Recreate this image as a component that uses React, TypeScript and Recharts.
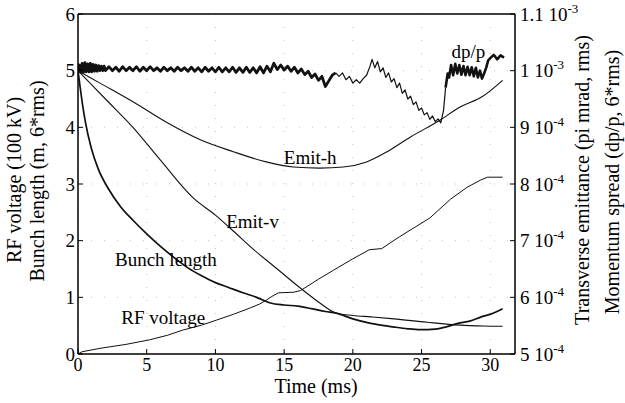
import React from "react";
import { LineChart, Line, XAxis, YAxis, CartesianGrid, ReferenceDot } from "recharts";

const FONT = '"Liberation Serif", "Times New Roman", serif';
const INK = "#111";

// axis ticks
const timeTicks = [0, 5, 10, 15, 20, 25, 30];
const leftTicks = [0, 1, 2, 3, 4, 5, 6];
// right axis runs 5e-4 .. 1.1e-3, drawn in units of 1e-4
const rightTicks = [5, 6, 7, 8, 9, 10, 11];
const rightTickLabels: Record<number, [string, string]> = {
  5: ["5", "-4"],
  6: ["6", "-4"],
  7: ["7", "-4"],
  8: ["8", "-4"],
  9: ["9", "-4"],
  10: ["1", "-3"],
  11: ["1.1", "-3"],
};

// [time (ms), value on left scale]
// dp/p is split where the trace changes from a noisy band to a thin line
const dppEarly: [number, number][] = [
  [0, 5.0], [0.1, 5.1], [0.2, 4.97], [0.3, 5.13], [0.4, 4.97], [0.5, 5.14], [0.6, 4.98], [0.7, 5.12],
  [0.8, 4.98], [0.9, 5.13], [1.0, 4.98], [1.1, 5.11], [1.2, 4.99], [1.3, 5.1], [1.4, 4.99], [1.5, 5.09],
  [1.6, 5.0], [1.7, 5.08], [1.8, 5.0], [1.9, 5.08], [2.0, 5.0], [2.25, 5.07], [2.5, 5.0], [2.75, 5.06],
  [3.0, 4.99], [3.25, 5.07], [3.5, 5.0], [3.75, 5.06], [4.0, 5.0], [4.25, 5.07], [4.5, 4.99], [4.75, 5.06],
  [5.0, 5.0], [5.25, 5.07], [5.5, 5.0], [5.75, 5.05], [6.0, 4.99], [6.25, 5.06], [6.5, 5.0], [6.75, 5.05],
  [7.0, 4.99], [7.25, 5.06], [7.5, 5.0], [7.75, 5.05], [8.0, 4.99], [8.25, 5.06], [8.5, 4.99], [8.75, 5.05],
  [9.0, 4.98], [9.25, 5.06], [9.5, 4.99], [9.75, 5.05], [10.0, 4.98], [10.25, 5.06], [10.5, 4.98], [10.75, 5.05],
  [11.0, 4.98], [11.25, 5.06], [11.5, 4.97], [11.75, 5.05], [12.0, 4.97], [12.25, 5.06], [12.5, 4.97], [12.75, 5.05],
  [13.0, 4.96], [13.25, 5.07], [13.5, 4.96], [13.75, 5.08], [14.0, 4.98], [14.25, 5.13], [14.5, 5.02], [14.75, 5.1],
  [15.0, 5.01], [15.25, 5.08], [15.5, 4.99], [15.75, 5.06], [16.0, 4.96], [16.25, 5.03], [16.5, 4.93], [16.75, 4.99],
  [17.0, 4.88], [17.25, 4.94], [17.5, 4.83], [17.75, 4.9], [18.0, 4.72], [18.25, 4.82], [18.5, 4.92], [18.75, 4.96],
];

const dppMid: [number, number][] = [
  [18.75, 4.96], [19.0, 4.9], [19.25, 4.96], [19.5, 4.84], [19.75, 4.9], [20.0, 4.78], [20.25, 4.84], [20.5, 4.78],
  [20.75, 4.86], [21.0, 4.92], [21.25, 5.08], [21.4, 5.2], [21.6, 5.05], [21.8, 5.16], [22.0, 4.98], [22.2, 5.05],
  [22.4, 4.88], [22.6, 4.96], [22.8, 4.8], [23.0, 4.86], [23.2, 4.7], [23.4, 4.78], [23.6, 4.6], [23.8, 4.66],
  [24.0, 4.5], [24.2, 4.55], [24.4, 4.4], [24.6, 4.45], [24.8, 4.3], [25.0, 4.34], [25.2, 4.22], [25.4, 4.26],
  [25.6, 4.14], [25.8, 4.2], [26.0, 4.1], [26.2, 4.15], [26.4, 4.08], [26.6, 4.3], [26.75, 4.7],
];

const dppLate: [number, number][] = [
  [26.75, 4.7], [26.9, 4.95], [27.0, 4.88], [27.15, 5.1], [27.3, 4.92], [27.45, 5.12], [27.6, 4.95], [27.75, 5.1],
  [27.9, 4.93], [28.05, 5.08], [28.2, 4.92], [28.35, 5.07], [28.5, 4.92], [28.65, 5.06], [28.8, 4.9], [28.95, 5.05],
  [29.1, 4.88], [29.25, 5.0], [29.4, 4.86], [29.55, 4.95], [29.7, 5.05], [29.85, 5.18], [30.0, 5.22], [30.25, 5.28],
  [30.5, 5.2], [30.75, 5.27], [31.0, 5.23],
];

const emitH: [number, number][] = [
  [0, 5.0], [1.6, 4.78], [4.0, 4.45], [6.5, 4.08], [8.9, 3.78], [11.3, 3.57], [13.7, 3.39], [15.7, 3.3],
  [17.6, 3.28], [19.3, 3.3], [21.0, 3.39], [22.5, 3.57], [24.2, 3.83], [26.3, 4.12], [27.8, 4.36],
  [29.4, 4.54], [30.9, 4.83],
];

const emitV: [number, number][] = [
  [0, 5.0], [2.0, 4.5], [4.0, 4.0], [6.0, 3.42], [8.4, 2.75], [10.0, 2.45], [11.3, 2.17], [12.7, 1.86],
  [14.5, 1.5], [16.2, 1.16], [17.6, 0.9], [18.8, 0.72], [20.0, 0.68], [21.3, 0.655], [23.0, 0.62],
  [25.4, 0.56], [27.8, 0.51], [29.5, 0.495], [30.9, 0.49],
];

const bunch: [number, number][] = [
  [0, 5.0], [0.15, 4.72], [0.3, 4.45], [0.55, 4.08], [0.95, 3.65], [1.45, 3.28], [2.2, 2.92], [3.1, 2.6],
  [4.0, 2.36], [5.0, 2.12], [6.0, 1.9], [7.0, 1.7], [8.0, 1.52], [9.0, 1.38], [10.0, 1.26], [11.0, 1.17],
  [12.0, 1.08], [13.0, 1.0], [14.0, 0.9], [15.0, 0.865], [16.0, 0.845], [17.0, 0.8], [18.0, 0.75],
  [18.8, 0.72], [20.0, 0.62], [21.3, 0.54], [22.9, 0.48], [24.0, 0.445], [24.9, 0.43], [26.0, 0.44],
  [26.8, 0.48], [27.8, 0.55], [28.5, 0.58], [29.3, 0.65], [30.2, 0.72], [30.9, 0.8],
];

const rfVolt: [number, number][] = [
  [0, 0], [0.3, 0.04], [1.6, 0.1], [3.5, 0.17], [5.2, 0.25], [6.5, 0.33], [7.6, 0.42], [9.0, 0.51],
  [10.1, 0.6], [11.3, 0.7], [12.5, 0.81], [13.2, 0.88], [13.7, 0.95], [14.2, 1.03], [14.6, 1.08],
  [15.7, 1.09], [16.2, 1.12], [17.5, 1.32], [18.6, 1.48], [20.0, 1.68], [21.2, 1.84], [22.1, 1.86],
  [23.4, 2.07], [25.6, 2.4], [27.1, 2.73], [28.3, 2.94], [29.3, 3.07], [29.8, 3.12], [30.9, 3.12],
];

// in-plot curve names, placed at (time, value)
const curveNames: [string, number, number][] = [
  ["dp/p", 28.4, 5.35],
  ["Emit-h", 16.9, 3.48],
  ["Emit-v", 12.7, 2.35],
  ["Bunch length", 6.4, 1.68],
  ["RF voltage", 6.2, 0.64],
];

const rows = (pairs: [number, number][]) => pairs.map(([t, v]) => ({ t, v }));

const axisLine = { stroke: "#000", strokeWidth: 1.5 };
const tickLine = { stroke: "#000", strokeWidth: 1 };
const tickFont = { fill: "#000", fontSize: 19, fontFamily: FONT };
const xTickFont = { fill: "#000", fontSize: 18, fontFamily: FONT };

const RightTick = (props: any) => {
  const { x, y, payload } = props;
  const [base, exp] = rightTickLabels[payload.value] || [String(payload.value), ""];
  return (
    <text x={x} y={y + 6.5} fill="#000" fontSize={19} fontFamily={FONT} textAnchor="start">
      <tspan>{base + " 10"}</tspan>
      <tspan dy={-8} fontSize={13}>{exp}</tspan>
    </text>
  );
};

const series = (pairs: [number, number][], width: number, curve: "linear" | "monotone", key: string) => (
  <Line
    key={key}
    xAxisId="b"
    yAxisId="left"
    data={rows(pairs)}
    dataKey="v"
    type={curve}
    stroke={INK}
    strokeWidth={width}
    strokeLinejoin="round"
    dot={false}
    isAnimationActive={false}
  />
);

const App = () => {
  return (
    <div style={{ position: "absolute", left: 0, top: 0, width: 625, height: 403, background: "#fff" }}>
      <LineChart width={625} height={403} margin={{ top: 13, right: 0, bottom: 0, left: 0 }}>
        <CartesianGrid xAxisId="b" yAxisId="left" stroke="#c4c4c4" strokeDasharray="1 12" />
        <XAxis
          xAxisId="b"
          dataKey="t"
          type="number"
          domain={[0, 31.8]}
          ticks={timeTicks}
          height={49}
          tickSize={-5}
          tickMargin={9}
          axisLine={axisLine}
          tickLine={tickLine}
          tick={xTickFont}
          allowDataOverflow
        />
        <XAxis
          xAxisId="top"
          orientation="top"
          dataKey="t"
          type="number"
          domain={[0, 31.8]}
          ticks={timeTicks}
          height={1}
          tickSize={-5}
          axisLine={axisLine}
          tickLine={tickLine}
          tick={false}
          allowDataOverflow
        />
        <YAxis
          yAxisId="left"
          type="number"
          domain={[0, 6]}
          ticks={leftTicks}
          width={78}
          tickSize={-5}
          tickMargin={8}
          axisLine={axisLine}
          tickLine={tickLine}
          tick={tickFont}
          allowDataOverflow
        />
        <YAxis
          yAxisId="right"
          orientation="right"
          type="number"
          domain={[5, 11]}
          ticks={rightTicks}
          width={110}
          tickSize={-5}
          tickMargin={10}
          axisLine={axisLine}
          tickLine={tickLine}
          tick={<RightTick />}
          allowDataOverflow
        />
        {series(dppEarly, 2.8, "linear", "dppEarly")}
        {series(dppMid, 1.2, "linear", "dppMid")}
        {series(dppLate, 2.6, "linear", "dppLate")}
        {series(emitH, 1.1, "monotone", "emitH")}
        {series(emitV, 1.1, "monotone", "emitV")}
        {series(bunch, 1.7, "monotone", "bunch")}
        {series(rfVolt, 1, "linear", "rf")}
        {curveNames.map(([name, t, v]) => (
          <ReferenceDot
            key={name}
            xAxisId="b"
            yAxisId="left"
            x={t}
            y={v}
            r={1}
            fill="none"
            stroke="none"
            label={{ value: name, position: "center", fill: "#000", fontSize: 19, fontFamily: FONT }}
          />
        ))}
      </LineChart>
      <svg width={625} height={403} style={{ position: "absolute", left: 0, top: 0, pointerEvents: "none" }}>
        <g fontFamily={FONT} fontSize={20} fill="#000" textAnchor="middle">
          <text transform="translate(21,180) rotate(-90)">RF voltage (100 kV)</text>
          <text transform="translate(44,181) rotate(-90)">Bunch length (m, 6*rms)</text>
          <text transform="translate(589,180) rotate(-90)">Transverse emittance (pi mrad, rms)</text>
          <text transform="translate(619,182) rotate(-90)">Momentum spread (dp/p, 6*rms)</text>
          <text x={316} y={393}>Time (ms)</text>
        </g>
      </svg>
    </div>
  );
};

export default App;
